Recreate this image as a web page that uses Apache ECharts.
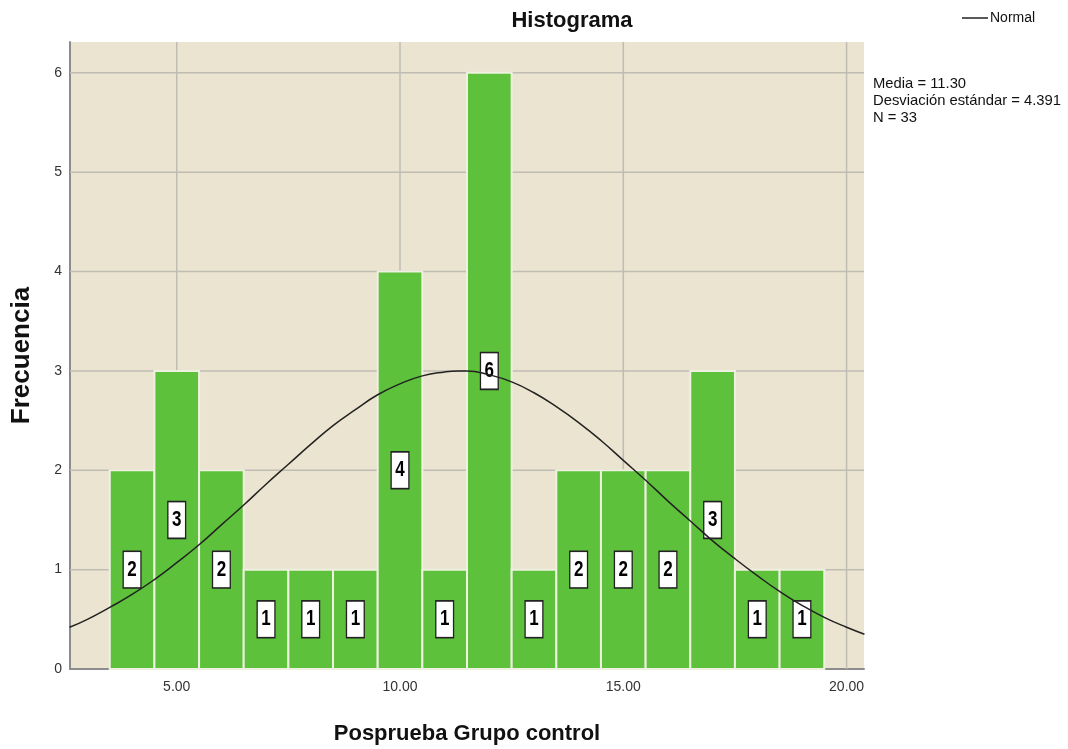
<!DOCTYPE html>
<html>
<head>
<meta charset="utf-8">
<script src="https://cdn.jsdelivr.net/npm/echarts@6/dist/echarts.min.js"></script>
<style>
html,body{margin:0;padding:0;background:#fff;}
#main{width:1068px;height:749px;}
</style>
</head>
<body>
<div id="main"></div>
<script>
// Data
const binCenters = [4, 5, 6, 7, 8, 9, 10, 11, 12, 13, 14, 15, 16, 17, 18, 19];
const frequencies = [2, 3, 2, 1, 1, 1, 4, 1, 6, 1, 2, 2, 2, 3, 1, 1];
const curveX = [2.6, 3, 3.5, 4, 4.5, 5, 5.5, 6, 6.5, 7, 7.5, 8, 8.5, 9, 9.5, 10, 10.5, 11, 11.3, 11.5, 12, 12.5, 13, 13.5, 14, 14.5, 15, 15.5, 16, 16.5, 17, 17.5, 18, 18.5, 19, 19.5, 20, 20.4];
const curveY = [0.42, 0.50, 0.62, 0.75, 0.90, 1.07, 1.25, 1.45, 1.65, 1.86, 2.06, 2.26, 2.45, 2.61, 2.76, 2.87, 2.95, 2.99, 3.00, 3.00, 2.96, 2.89, 2.78, 2.64, 2.48, 2.30, 2.10, 1.90, 1.69, 1.49, 1.29, 1.11, 0.94, 0.78, 0.64, 0.52, 0.42, 0.35];
const xTicks = [5, 10, 15, 20];
const yTicks = [0, 1, 2, 3, 4, 5, 6];
const statsLines = ['Media = 11.30', 'Desviación estándar = 4.391', 'N = 33'];

const chart = echarts.init(document.getElementById('main'));
const FONT = '"Liberation Sans", Arial, sans-serif';

const barData = binCenters.map((c, i) => [c, frequencies[i]]);
const curveData = curveX.map((x, i) => [x, curveY[i]]);
const GRID_COLOR = '#bfbcb4';

const option = {
  animation: false,
  backgroundColor: '#ffffff',
  grid: {
    left: 70, right: 204, top: 42, bottom: 80,
    containLabel: false, outerBoundsMode: 'none',
    show: true, backgroundColor: '#ebe4d0', borderWidth: 0
  },
  legend: {
    data: ['Normal'],
    left: 957, top: 6,
    icon: 'rect', itemWidth: 26, itemHeight: 1.5, itemGap: 2,
    textStyle: { fontFamily: FONT, fontSize: 14, color: '#111', padding: [0, 0, 0, -3] },
    itemStyle: { color: '#222' }
  },
  xAxis: {
    type: 'value', min: 2.61, max: 20.39,
    axisLine: { show: true, onZero: false, lineStyle: { color: '#8c8c8c', width: 2 } },
    axisTick: { show: false },
    splitLine: { show: false },
    axisLabel: {
      customValues: xTicks,
      formatter: v => v.toFixed(2),
      fontFamily: FONT, fontSize: 14, color: '#333', margin: 11,
      showMinLabel: true, showMaxLabel: true
    },
    name: 'Posprueba Grupo control',
    nameLocation: 'middle', nameGap: 54,
    nameTextStyle: { fontFamily: FONT, fontSize: 22, fontWeight: 'bold', color: '#111' }
  },
  yAxis: {
    type: 'value', min: 0, max: 6.31,
    axisLine: { show: true, lineStyle: { color: '#8c8c8c', width: 2 } },
    axisTick: { show: false },
    splitLine: { show: false },
    axisLabel: {
      customValues: yTicks,
      fontFamily: FONT, fontSize: 14, color: '#333', margin: 8
    },
    name: 'Frecuencia',
    nameLocation: 'middle', nameGap: 35, nameRotate: 90,
    nameTextStyle: { fontFamily: FONT, fontSize: 26, fontWeight: 'bold', color: '#111' }
  },
  graphic: [
    {
      type: 'text', x: 572, y: 21,
      style: { text: 'Histograma', fontFamily: FONT, fontSize: 22, fontWeight: 'bold', fill: '#111', align: 'center', verticalAlign: 'middle' }
    },
    {
      type: 'text', x: 873, y: 75,
      style: { text: statsLines.join('\n'), fontFamily: FONT, fontSize: 14.8, lineHeight: 17, fill: '#111' }
    }
  ],
  series: [
    {
      name: 'gridV',
      type: 'custom',
      z: 1,
      silent: true,
      data: xTicks.map(v => [v]),
      renderItem: function (params, api) {
        const cs = params.coordSys;
        const p = api.coord([api.value(0), 0]);
        return { type: 'line', shape: { x1: p[0], y1: cs.y, x2: p[0], y2: cs.y + cs.height },
          style: { stroke: GRID_COLOR, lineWidth: 1.5 } };
      }
    },
    {
      name: 'gridH',
      type: 'custom',
      z: 1,
      silent: true,
      data: yTicks.filter(v => v > 0).map(v => [0, v]),
      encode: { x: 0, y: 1 },
      renderItem: function (params, api) {
        const cs = params.coordSys;
        const p = api.coord([5, api.value(1)]);
        return { type: 'line', shape: { x1: cs.x, y1: p[1], x2: cs.x + cs.width, y2: p[1] },
          style: { stroke: GRID_COLOR, lineWidth: 1.5 } };
      }
    },
    {
      name: 'Frecuencia',
      type: 'custom',
      z: 2,
      data: barData,
      renderItem: function (params, api) {
        const c = api.value(0), f = api.value(1);
        const p0 = api.coord([c - 0.5, f]);
        const p1 = api.coord([c + 0.5, 0]);
        const mid = api.coord([c, f / 2]);
        return {
          type: 'group',
          children: [
            {
              type: 'rect',
              shape: { x: p0[0], y: p0[1], width: p1[0] - p0[0], height: p1[1] - p0[1] },
              style: { fill: '#5ec13b', stroke: '#eef0e0', lineWidth: 2 }
            },
            {
              type: 'text',
              z2: 10,
              x: mid[0], y: mid[1],
              scaleY: 1.3,
              style: {
                x: 0, y: 0,
                text: String(f),
                fontFamily: FONT, fontSize: 17, fontWeight: 'bold',
                fill: '#000',
                align: 'center', verticalAlign: 'middle',
                backgroundColor: '#ffffff', borderColor: '#222', borderWidth: 1.3,
                padding: [5, 3.5, 5, 3.5], lineHeight: 17
              }
            }
          ]
        };
      }
    },
    {
      name: 'Normal',
      type: 'line',
      z: 5,
      data: curveData,
      smooth: true,
      showSymbol: false,
      symbol: 'none',
      lineStyle: { color: '#222', width: 1.5 },
      itemStyle: { color: '#222' }
    }
  ]
};
chart.setOption(option);
</script>
</body>
</html>
